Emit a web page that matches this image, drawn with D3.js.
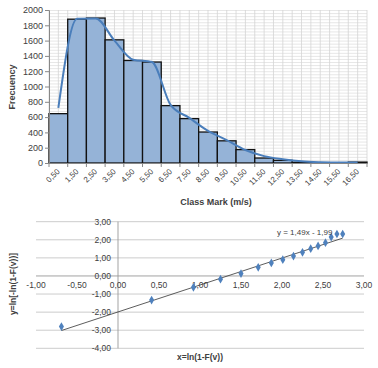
<!DOCTYPE html>
<html>
<head>
<meta charset="utf-8">
<title>Histogram and Weibull plot</title>
<script src="https://d3js.org/d3.v7.min.js"></script>
<style>
  body { margin: 0; background: #fff; }
  text { font-family: "Liberation Sans", Arial, sans-serif; fill: #404040; }
</style>
</head>
<body>
<script>
// top chart: frequency histogram
const classMarks = ["0,50","1,50","2,50","3,50","4,50","5,50","6,50","7,50","8,50",
                    "9,50","10,50","11,50","12,50","13,50","14,50","15,50","16,50"];
const frequency = [645, 1880, 1895, 1610, 1340, 1320, 750, 580, 405, 290, 175, 65, 35, 10, 5, 3, 12];
const fitted    = [720, 1885, 1890, 1600, 1350, 1320, 760, 590, 420, 300, 170, 90, 50, 22, 10, 5, 8];
const freqTicks = [0, 200, 400, 600, 800, 1000, 1200, 1400, 1600, 1800, 2000];

// bottom chart: linearised Weibull plot
const lnV  = [-0.69, 0.41, 0.92, 1.25, 1.50, 1.71, 1.87, 2.01, 2.14, 2.25, 2.35, 2.44, 2.53, 2.60, 2.67, 2.74];
const lnLn = [-2.80, -1.33, -0.63, -0.18, 0.13, 0.48, 0.72, 0.90, 1.10, 1.31, 1.51, 1.66, 1.84, 2.15, 2.32, 2.32];
const slope = 1.49, intercept = -1.99;
const xTicks = [-1, -0.5, 0, 0.5, 1, 1.5, 2, 2.5, 3];
const yTicks = [-4, -3, -2, -1, 0, 1, 2, 3];

const fmt = v => d3.format(".2f")(v).replace(".", ",").replace("−", "-");

const svg = d3.select("body").append("svg")
    .attr("width", 378)
    .attr("height", 368);

// ---------- histogram ----------
const x = d3.scaleBand().domain(classMarks).range([49, 367]).padding(0);
const y = d3.scaleLinear().domain([0, 2000]).range([163, 10]);
const hist = svg.append("g");

// minor horizontal grid
hist.append("g").selectAll("line")
    .data(d3.range(0, 2001, 40)).join("line")
    .attr("x1", 49).attr("x2", 367)
    .attr("y1", d => y(d) + 0.5).attr("y2", d => y(d) + 0.5)
    .attr("stroke", "#dcdcdc").attr("stroke-width", 0.7);
// vertical grid (boundaries and centres)
const vgrid = [];
classMarks.forEach(c => { vgrid.push(x(c)); vgrid.push(x(c) + x.bandwidth() / 2); });
vgrid.push(367);
hist.append("g").selectAll("line")
    .data(vgrid).join("line")
    .attr("x1", d => d).attr("x2", d => d)
    .attr("y1", 10).attr("y2", 163)
    .attr("stroke", "#d4d4d4").attr("stroke-width", 0.8);

hist.append("g").selectAll("rect")
    .data(frequency).join("rect")
    .attr("x", (d, i) => x(classMarks[i]))
    .attr("y", d => y(d))
    .attr("width", x.bandwidth())
    .attr("height", d => y(0) - y(d))
    .attr("fill", "#95b3d7")
    .attr("stroke", "#111")
    .attr("stroke-width", 1.3);

hist.append("path")
    .datum(fitted)
    .attr("fill", "none")
    .attr("stroke", "#4a7ebb")
    .attr("stroke-width", 2)
    .attr("d", d3.line()
        .x((d, i) => x(classMarks[i]) + x.bandwidth() / 2)
        .y(d => y(d))
        .curve(d3.curveMonotoneX));

// axes
const yAxis = hist.append("g")
    .attr("transform", "translate(49,0)")
    .call(d3.axisLeft(y).tickValues(freqTicks).tickSize(4).tickFormat(d3.format("d")));
yAxis.select(".domain").attr("stroke", "#888");
yAxis.selectAll(".tick line").attr("stroke", "#888");
yAxis.selectAll("text").attr("font-size", 9).attr("fill", "#404040").attr("x", -6);

const xAxis = hist.append("g")
    .attr("transform", "translate(0,163)")
    .call(d3.axisBottom(x).tickSize(0).tickFormat(""));
xAxis.select(".domain").attr("stroke", "#888");
hist.append("g").selectAll("line")
    .data(classMarks.map(c => x(c)).concat([367])).join("line")
    .attr("x1", d => d).attr("x2", d => d)
    .attr("y1", 163).attr("y2", 167)
    .attr("stroke", "#888");
hist.append("g").selectAll("text")
    .data(classMarks).join("text")
    .attr("transform", d => `translate(${x(d) + x.bandwidth() / 2},170) rotate(-45)`)
    .attr("text-anchor", "end")
    .attr("dy", "0.35em")
    .attr("font-size", 8)
    .text(d => d);

hist.append("text")
    .attr("transform", "translate(15,87) rotate(-90)")
    .attr("text-anchor", "middle")
    .attr("font-size", 9).attr("font-weight", "bold").attr("fill", "#222")
    .text("Frecuency");
hist.append("text")
    .attr("x", 216).attr("y", 205)
    .attr("text-anchor", "middle")
    .attr("font-size", 9).attr("font-weight", "bold").attr("fill", "#222")
    .text("Class Mark (m/s)");

// ---------- Weibull plot ----------
const sx = d3.scaleLinear().domain([-1, 3]).range([36, 364]);
const sy = d3.scaleLinear().domain([-4, 3]).range([348.3, 221.7]);
const bot = svg.append("g");

bot.append("g").selectAll("line")
    .data(yTicks).join("line")
    .attr("x1", 36).attr("x2", 364)
    .attr("y1", d => sy(d)).attr("y2", d => sy(d))
    .attr("stroke", d => d === 0 ? "#999" : "#c6c6c6")
    .attr("stroke-width", 0.9);
bot.append("line")
    .attr("x1", sx(0)).attr("x2", sx(0))
    .attr("y1", sy(3)).attr("y2", sy(-4))
    .attr("stroke", "#999").attr("stroke-width", 0.9);

bot.append("g").selectAll("text")
    .data(yTicks).join("text")
    .attr("x", sx(0) - 7).attr("y", d => sy(d))
    .attr("dy", "0.35em")
    .attr("text-anchor", "end")
    .attr("font-size", 8.5)
    .text(fmt);
bot.append("g").selectAll("text")
    .data(xTicks).join("text")
    .attr("x", d => sx(d)).attr("y", sy(0) + 12)
    .attr("text-anchor", "middle")
    .attr("font-size", 8.5)
    .text(fmt);

const xMin = d3.min(lnV), xMax = d3.max(lnV);
bot.append("line")
    .attr("x1", sx(xMin)).attr("y1", sy(slope * xMin + intercept))
    .attr("x2", sx(xMax)).attr("y2", sy(slope * xMax + intercept))
    .attr("stroke", "#333").attr("stroke-width", 0.8);

bot.append("g").selectAll("path")
    .data(lnV).join("path")
    .attr("transform", (d, i) => `translate(${sx(d)},${sy(lnLn[i])})`)
    .attr("d", d3.symbol(d3.symbolDiamond, 22))
    .attr("fill", "#4f81bd");

bot.append("text")
    .attr("x", 277).attr("y", 235)
    .attr("font-size", 8)
    .text("y = 1,49x - 1,99");

bot.append("text")
    .attr("transform", "translate(16,284) rotate(-90)")
    .attr("text-anchor", "middle")
    .attr("font-size", 8.5).attr("font-weight", "bold").attr("fill", "#222")
    .text("y=ln[-ln(1-F(v))]");
bot.append("text")
    .attr("x", 200).attr("y", 360)
    .attr("text-anchor", "middle")
    .attr("font-size", 8.5).attr("font-weight", "bold").attr("fill", "#222")
    .text("x=ln(1-F(v))");
</script>
</body>
</html>
